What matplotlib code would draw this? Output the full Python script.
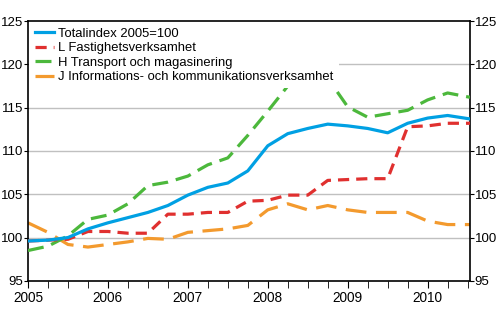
import numpy as np
import matplotlib.pyplot as plt

# kvartal 2005Q1 .. 2010Q3 (tidsaxel i år)
tid = [2005.0, 2005.25, 2005.5, 2005.75, 2006.0, 2006.25, 2006.5, 2006.75,
       2007.0, 2007.25, 2007.5, 2007.75, 2008.0, 2008.25, 2008.5, 2008.75,
       2009.0, 2009.25, 2009.5, 2009.75, 2010.0, 2010.25, 2010.53]

totalindex = [99.6, 99.7, 100.0, 101.0, 101.7, 102.3, 102.9, 103.7,
              104.9, 105.8, 106.3, 107.7, 110.6, 112.0, 112.6, 113.1,
              112.9, 112.6, 112.1, 113.2, 113.8, 114.1, 113.7]
fastighet = [99.6, 99.7, 99.8, 100.7, 100.7, 100.5, 100.5, 102.7,
             102.7, 102.9, 102.9, 104.2, 104.3, 104.9, 104.9, 106.6,
             106.7, 106.8, 106.8, 112.8, 112.9, 113.2, 113.2]
transport = [98.5, 99.0, 100.2, 102.1, 102.6, 103.9, 106.0, 106.4,
             107.1, 108.4, 109.2, 111.8, 114.6, 117.5, 119.5, 118.4,
             115.1, 113.9, 114.3, 114.7, 115.9, 116.7, 116.2]
information = [101.7, 100.6, 99.2, 98.9, 99.2, 99.5, 99.9, 99.8,
               100.6, 100.8, 101.0, 101.4, 103.2, 103.9, 103.2, 103.7,
               103.2, 102.9, 102.9, 102.9, 101.9, 101.5, 101.5]

etiketter = ["Totalindex 2005=100", "L Fastighetsverksamhet",
             "H Transport och magasinering",
             "J Informations- och kommunikationsverksamhet"]

plt.rcParams['font.family'] = ['Liberation Sans', 'DejaVu Sans']

fig = plt.figure(figsize=(5, 3.3), dpi=100)
ax = fig.add_axes([0.056, 0.149, 0.884, 0.787])

ax.plot(tid, totalindex, color="#00a0e3", lw=2.3, label=etiketter[0], zorder=5)
ax.plot(tid, fastighet, color="#e0302f", lw=2.3, dashes=(3.5, 2.2), label=etiketter[1], zorder=4)
ax.plot(tid, transport, color="#4cb83c", lw=2.3, dashes=(5, 2.5), label=etiketter[2], zorder=3)
ax.plot(tid, information, color="#f39a2e", lw=2.3, dashes=(6.5, 3), label=etiketter[3], zorder=2)

ax.set_xlim(2005, 2010.53)
ax.set_ylim(95, 125)
ax.set_yticks(range(95, 126, 5))
ax.set_xticks(range(2005, 2011))
ax.set_xticks(np.arange(2005, 2010.6, 0.25), minor=True)
ax.set_xticklabels([str(a) for a in range(2005, 2011)])

# stödlinjer
for y in range(100, 125, 5):
    ax.axhline(y, color="#c0c0c0", lw=1, zorder=1)

ax.tick_params(axis="y", which="both", direction="out", length=3, labelsize=9.5,
               left=True, right=True, labelleft=True, labelright=True, pad=0.5)
ax.tick_params(axis="x", which="both", direction="out", length=5, labelsize=9.8, pad=2)
for s in ax.spines.values():
    s.set_linewidth(1.2)

leg = ax.legend(loc="upper left", bbox_to_anchor=(0.0, 1.0), borderaxespad=0.1,
                fontsize=9.4, frameon=True, fancybox=False, edgecolor="none",
                facecolor="white", framealpha=1, handlelength=1.5,
                handletextpad=0.3, labelspacing=0.18, borderpad=0.4)
leg.set_zorder(10)

fig.savefig("out.png", dpi=100)
